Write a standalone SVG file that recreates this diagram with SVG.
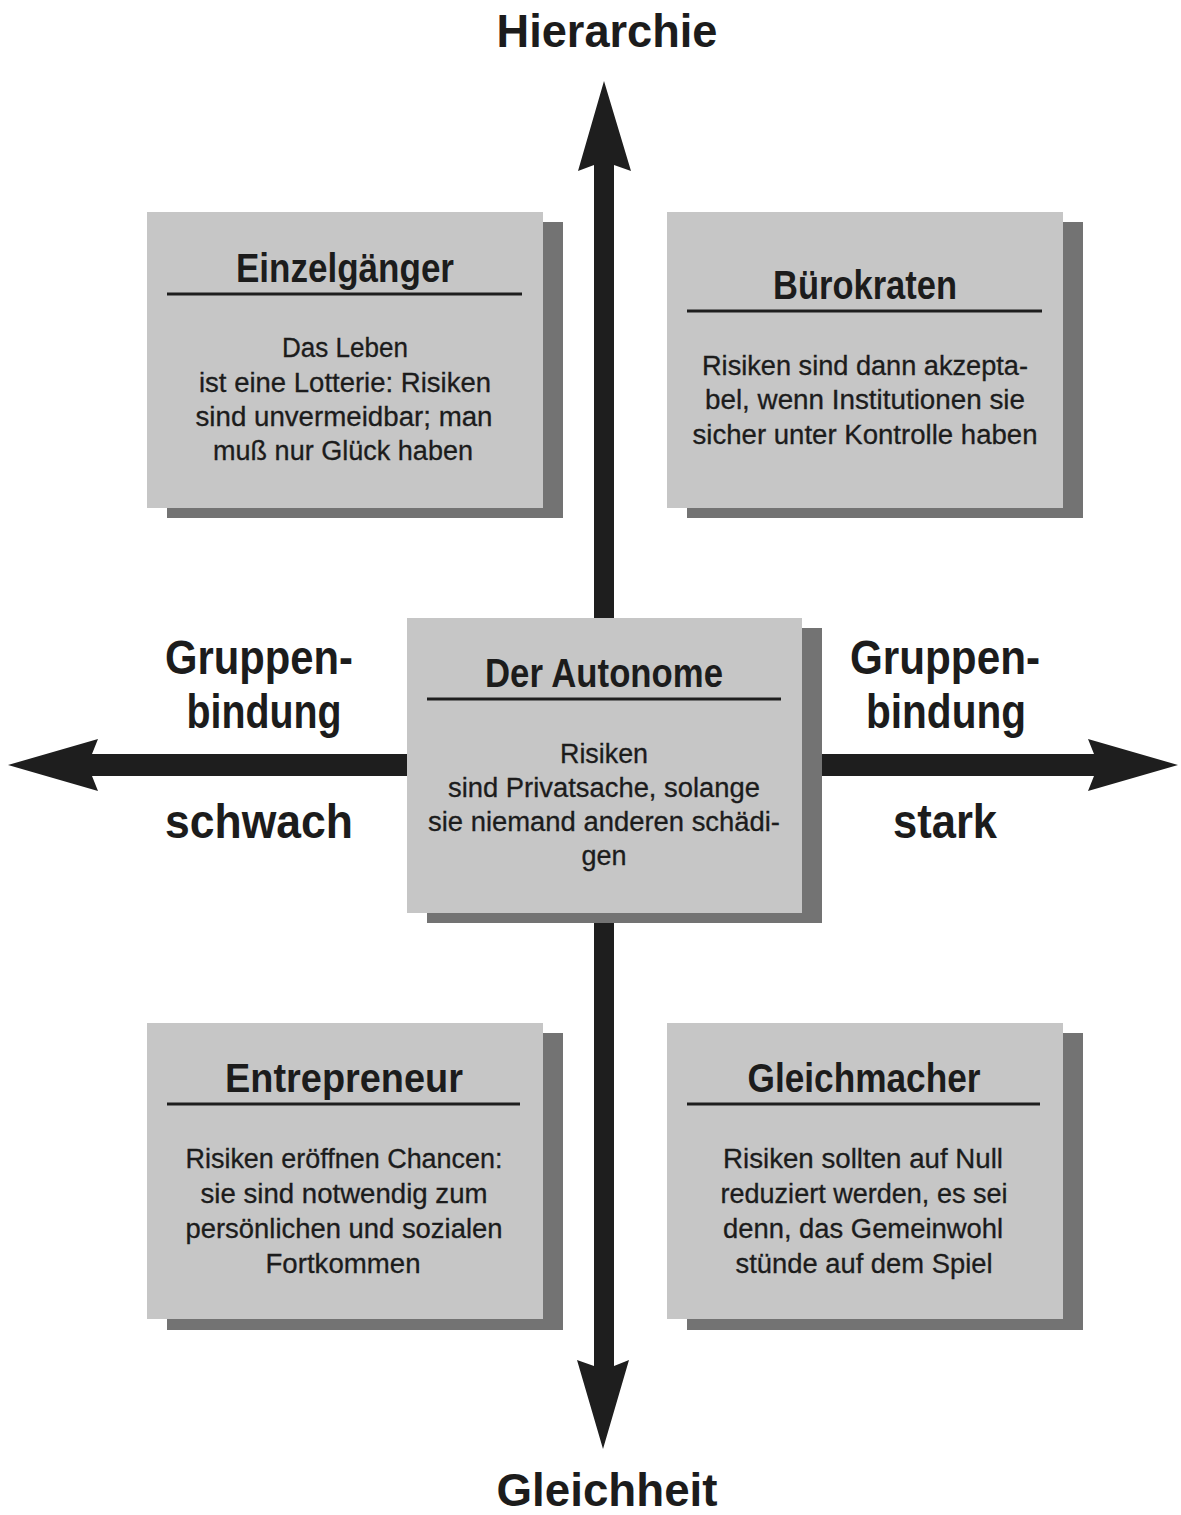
<svg xmlns="http://www.w3.org/2000/svg" width="1181" height="1515" viewBox="0 0 1181 1515">
<style>
.shadow{fill:#737373}
.box{fill:#c6c6c6}
.rule{stroke:#1e1e1e;stroke-width:3}
.title{font-family:"Liberation Sans",Arial,sans-serif;font-weight:bold;font-size:40px;fill:#1c1c1c;text-anchor:middle}
.body{font-family:"Liberation Sans",Arial,sans-serif;font-size:27px;fill:#1c1c1c;text-anchor:middle;stroke:#1c1c1c;stroke-width:0.3}
.axis{font-family:"Liberation Sans",Arial,sans-serif;font-weight:bold;font-size:47px;fill:#1c1c1c;text-anchor:middle}
.side{font-family:"Liberation Sans",Arial,sans-serif;font-weight:bold;font-size:48px;fill:#1c1c1c;text-anchor:middle}
.arrow{fill:#1e1e1e}
</style>
<rect width="1181" height="1515" fill="#ffffff"/>
<g id="connectors">
<path class="arrow" d="M604,81 L631,171 L614,165 L614,1366 L629,1360 L603,1449 L577,1360 L594,1366 L594,165 L578,171 Z"/>
<path class="arrow" d="M8,765 L98,739 L92,754 L1094,754 L1088,739 L1178,765 L1088,791 L1094,776 L92,776 L98,791 Z"/>
</g>
<g id="label-hierarchie"><text class="axis" x="607" y="47" textLength="221" lengthAdjust="spacingAndGlyphs">Hierarchie</text></g>
<g id="label-gleichheit"><text class="axis" x="607" y="1506" textLength="221" lengthAdjust="spacingAndGlyphs">Gleichheit</text></g>
<g id="label-schwach">
<text class="side" x="259" y="674" textLength="188" lengthAdjust="spacingAndGlyphs">Gruppen-</text>
<text class="side" x="264" y="728" textLength="155" lengthAdjust="spacingAndGlyphs">bindung</text>
<text class="side" x="259" y="838" textLength="188" lengthAdjust="spacingAndGlyphs">schwach</text>
</g>
<g id="label-stark">
<text class="side" x="945" y="674" textLength="190" lengthAdjust="spacingAndGlyphs">Gruppen-</text>
<text class="side" x="946" y="728" textLength="160" lengthAdjust="spacingAndGlyphs">bindung</text>
<text class="side" x="945" y="838" textLength="104" lengthAdjust="spacingAndGlyphs">stark</text>
</g>
<g id="node-einzelgaenger">
<rect class="shadow" x="167" y="222" width="396" height="296"/>
<rect class="box" x="147" y="212" width="396" height="296"/>
<text class="title" x="345" y="282" textLength="218" lengthAdjust="spacingAndGlyphs">Einzelgänger</text>
<line class="rule" x1="167" y1="294" x2="522" y2="294"/>
<text class="body" x="345" y="357" textLength="126" lengthAdjust="spacingAndGlyphs">Das Leben</text>
<text class="body" x="345" y="392" textLength="292" lengthAdjust="spacingAndGlyphs">ist eine Lotterie: Risiken</text>
<text class="body" x="344" y="426" textLength="297" lengthAdjust="spacingAndGlyphs">sind unvermeidbar; man</text>
<text class="body" x="343" y="460" textLength="260" lengthAdjust="spacingAndGlyphs">muß nur Glück haben</text>
</g>
<g id="node-buerokraten">
<rect class="shadow" x="687" y="222" width="396" height="296"/>
<rect class="box" x="667" y="212" width="396" height="296"/>
<text class="title" x="865" y="299" textLength="184" lengthAdjust="spacingAndGlyphs">Bürokraten</text>
<line class="rule" x1="687" y1="311" x2="1042" y2="311"/>
<text class="body" x="865" y="375" textLength="326" lengthAdjust="spacingAndGlyphs">Risiken sind dann akzepta-</text>
<text class="body" x="865" y="409" textLength="320" lengthAdjust="spacingAndGlyphs">bel, wenn Institutionen sie</text>
<text class="body" x="865" y="444" textLength="345" lengthAdjust="spacingAndGlyphs">sicher unter Kontrolle haben</text>
</g>
<g id="node-autonome">
<rect class="shadow" x="427" y="628" width="395" height="295"/>
<rect class="box" x="407" y="618" width="395" height="295"/>
<text class="title" x="604" y="687" textLength="238" lengthAdjust="spacingAndGlyphs">Der Autonome</text>
<line class="rule" x1="427" y1="699" x2="781" y2="699"/>
<text class="body" x="604" y="763" textLength="88" lengthAdjust="spacingAndGlyphs">Risiken</text>
<text class="body" x="604" y="797" textLength="312" lengthAdjust="spacingAndGlyphs">sind Privatsache, solange</text>
<text class="body" x="604" y="831" textLength="352" lengthAdjust="spacingAndGlyphs">sie niemand anderen schädi-</text>
<text class="body" x="604" y="865" textLength="45" lengthAdjust="spacingAndGlyphs">gen</text>
</g>
<g id="node-entrepreneur">
<rect class="shadow" x="167" y="1033" width="396" height="297"/>
<rect class="box" x="147" y="1023" width="396" height="296"/>
<text class="title" x="344" y="1092" textLength="238" lengthAdjust="spacingAndGlyphs">Entrepreneur</text>
<line class="rule" x1="167" y1="1104" x2="520" y2="1104"/>
<text class="body" x="344" y="1168" textLength="317" lengthAdjust="spacingAndGlyphs">Risiken eröffnen Chancen:</text>
<text class="body" x="344" y="1203" textLength="287" lengthAdjust="spacingAndGlyphs">sie sind notwendig zum</text>
<text class="body" x="344" y="1238" textLength="317" lengthAdjust="spacingAndGlyphs">persönlichen und sozialen</text>
<text class="body" x="343" y="1273" textLength="155" lengthAdjust="spacingAndGlyphs">Fortkommen</text>
</g>
<g id="node-gleichmacher">
<rect class="shadow" x="687" y="1033" width="396" height="297"/>
<rect class="box" x="667" y="1023" width="396" height="296"/>
<text class="title" x="864" y="1092" textLength="233" lengthAdjust="spacingAndGlyphs">Gleichmacher</text>
<line class="rule" x1="687" y1="1104" x2="1040" y2="1104"/>
<text class="body" x="863" y="1168" textLength="280" lengthAdjust="spacingAndGlyphs">Risiken sollten auf Null</text>
<text class="body" x="864" y="1203" textLength="287" lengthAdjust="spacingAndGlyphs">reduziert werden, es sei</text>
<text class="body" x="863" y="1238" textLength="280" lengthAdjust="spacingAndGlyphs">denn, das Gemeinwohl</text>
<text class="body" x="864" y="1273" textLength="257" lengthAdjust="spacingAndGlyphs">stünde auf dem Spiel</text>
</g>
</svg>
